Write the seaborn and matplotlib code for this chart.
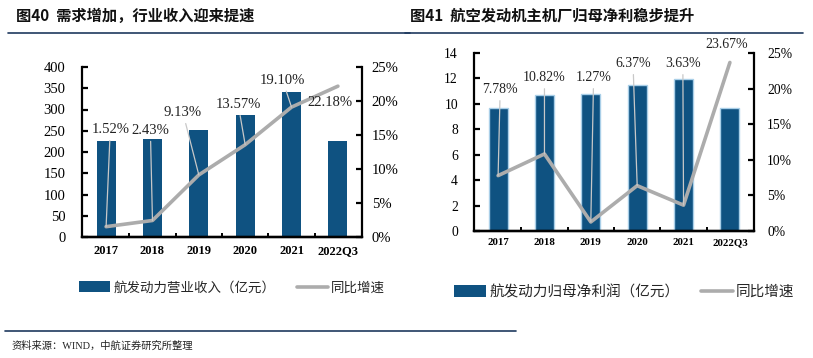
import numpy as np
import pandas as pd
import seaborn as sns
import matplotlib.pyplot as plt
from matplotlib.lines import Line2D
from matplotlib.patches import Patch
from matplotlib.ticker import FuncFormatter, MultipleLocator

years = ['2017', '2018', '2019', '2020', '2021', '2022Q3']

# 图40
revenue = [227, 231, 252, 288, 342, 225]
revenue_growth = [1.52, 2.43, 9.13, 13.57, 19.10, 22.18]

# 图41
profit = [9.65, 10.7, 10.8, 11.5, 11.95, 9.7]
profit_growth = [7.78, 10.82, 1.27, 6.37, 3.63, 23.67]

title_l = '图40  需求增加，行业收入迎来提速'
title_r = '图41  航空发动机主机厂归母净利稳步提升'
legend_bar_l = '航发动力营业收入（亿元）'
legend_bar_r = '航发动力归母净利润（亿元）'
legend_line = '同比增速'
source = '资料来源：WIND，中航证券研究所整理'

bar_color = '#0f5281'
line_color = '#acacac'
navy = '#1f3a5f'
serif = ['Liberation Serif', 'DejaVu Serif']
mixed = ['Liberation Serif', 'Noto Sans CJK SC']
cjk = ['Noto Sans CJK SC', 'DejaVu Sans']

sns.set_theme(style='white')
plt.rcParams['font.family'] = cjk
plt.rcParams['axes.unicode_minus'] = False

W, H = 813, 358
fig = plt.figure(figsize=(W / 100, H / 100), dpi=100)


def px_axes(x0, x1, y0, y1):
    return fig.add_axes([x0 / W, 1 - y1 / H, (x1 - x0) / W, (y1 - y0) / H])


def style_axes(ax, ax2, ylim, ystep, tick_fs, xtick_fs, lpad, rpad, xpad):
    for a in (ax, ax2):
        for s in a.spines.values():
            s.set_color('black')
            s.set_linewidth(1.6)
            s.set_zorder(10)
        a.spines['top'].set_visible(False)
    ax.spines['right'].set_visible(False)
    ax2.spines['left'].set_visible(False)
    ax.spines['bottom'].set_visible(True)
    ax.set_ylim(*ylim)
    ax.yaxis.set_major_locator(MultipleLocator(ystep))
    ax2.set_ylim(0, 25)
    ax2.yaxis.set_major_locator(MultipleLocator(5))
    ax2.yaxis.set_major_formatter(FuncFormatter(lambda v, p: f'{v:.0f}%'))
    ax.tick_params(axis='y', direction='in', length=4, width=1.6, left=True,
                   labelsize=tick_fs, pad=lpad, colors='black')
    ax2.tick_params(axis='y', direction='in', length=4, width=1.6, right=True,
                    labelsize=tick_fs, pad=rpad, colors='black')
    for lab in ax.get_yticklabels() + ax2.get_yticklabels():
        lab.set_family(serif)
    ax.tick_params(axis='x', which='major', bottom=False, length=0, pad=xpad,
                   labelsize=xtick_fs, colors='black')
    for lab in ax.get_xticklabels():
        lab.set_family(serif)
        lab.set_fontweight('bold')
    # small inward marks between categories
    ax.set_xticks(np.arange(len(years) - 1) + 0.5, minor=True)
    ax.tick_params(axis='x', which='minor', bottom=True, direction='in', length=3,
                   width=1.4, color='black')
    ax.axhline(0, color='black', lw=1.6, clip_on=False, zorder=10)
    ax.set_xlabel('')
    ax.set_ylabel('')
    ax2.set_ylabel('')
    ax.set_xlim(-0.52, len(years) - 0.48)


def annotate(ax2, values, offsets, fs, leader):
    for i, (v, (dx, dy)) in enumerate(zip(values, offsets)):
        arrow = dict(arrowstyle='-', color='#c8c8c8', lw=0.9, shrinkA=1, shrinkB=0) if leader[i] else None
        ax2.annotate(f'{v:.2f}%', xy=(i, v), xytext=(dx, dy), textcoords='offset points',
                     ha='center', va='center', fontsize=fs, family=serif, color='#222222',
                     arrowprops=arrow, zorder=5)


# ---- left chart
df_l = pd.DataFrame({'year': years, 'value': revenue, 'growth': revenue_growth})
ax = px_axes(82, 362, 67, 237)
sns.barplot(data=df_l, x='year', y='value', color=bar_color, width=0.41,
            saturation=1, ax=ax, linewidth=0)
ax2 = ax.twinx()
sns.lineplot(x=np.arange(len(years)), y=df_l['growth'], color=line_color, lw=2.6, ax=ax2)
style_axes(ax, ax2, (0, 400), 50, 10.5, 9, 12, 7, 6)
annotate(ax2, revenue_growth,
         [(3, 70), (-1.5, 65), (-11.5, 45), (-5, 29), (-6.5, 19.5), (-6, -12)], 10.5,
         [True, True, True, True, True, False])

# ---- right chart
df_r = pd.DataFrame({'year': years, 'value': profit, 'growth': profit_growth})
bx = px_axes(474, 754, 53, 231)
sns.barplot(data=df_r, x='year', y='value', color=bar_color, width=0.41,
            saturation=1, ax=bx, edgecolor='#a9cfe8', linewidth=1.0)
bx2 = bx.twinx()
sns.lineplot(x=np.arange(len(years)), y=df_r['growth'], color=line_color, lw=2.6, ax=bx2)
style_axes(bx, bx2, (0, 14), 2, 9.8, 7.8, 11.5, 9.5, 5)
annotate(bx2, profit_growth,
         [(1.5, 62), (0, 55), (2, 104), (-3, 88), (-0.5, 102), (-2, 12.6)], 10,
         [True, True, True, True, True, False])

# ---- legends
fig.legend(handles=[Patch(facecolor=bar_color, edgecolor='none'),
                    Line2D([], [], color=line_color, lw=2.6)],
           labels=[legend_bar_l, legend_line], loc='center left',
           bbox_to_anchor=(79 / W, 1 - 288 / H), ncol=2, frameon=False,
           handlelength=2.3, handleheight=0.85, handletextpad=0.25, columnspacing=1.6,
           borderpad=0, borderaxespad=0, prop={'family': mixed, 'size': 9.7})
fig.legend(handles=[Patch(facecolor=bar_color, edgecolor='none'),
                    Line2D([], [], color=line_color, lw=2.6)],
           labels=[legend_bar_r, legend_line], loc='center left',
           bbox_to_anchor=(454 / W, 1 - 292 / H), ncol=2, frameon=False,
           handlelength=2.2, handleheight=0.8, handletextpad=0.2, columnspacing=1.5,
           borderpad=0, borderaxespad=0, prop={'family': mixed, 'size': 10.5})

# ---- titles, rules, source
fig.text(16 / W, 1 - 16 / H, title_l, fontsize=11, fontweight='bold', va='center', color='#111111')
fig.text(410 / W, 1 - 16 / H, title_r, fontsize=11, fontweight='bold', va='center', color='#111111')
fig.add_artist(Line2D([8 / W, 410 / W], [1 - 33 / H] * 2, color=navy, lw=1.2))
fig.add_artist(Line2D([405 / W, 803 / W], [1 - 33 / H] * 2, color=navy, lw=1.2))
fig.add_artist(Line2D([5 / W, 516 / W], [1 - 331 / H] * 2, color=navy, lw=1.2))
fig.text(11 / W, 1 - 346 / H, source, fontsize=7.4, family=mixed, va='center', color='#222222')

fig.savefig('out.png', dpi=100)
